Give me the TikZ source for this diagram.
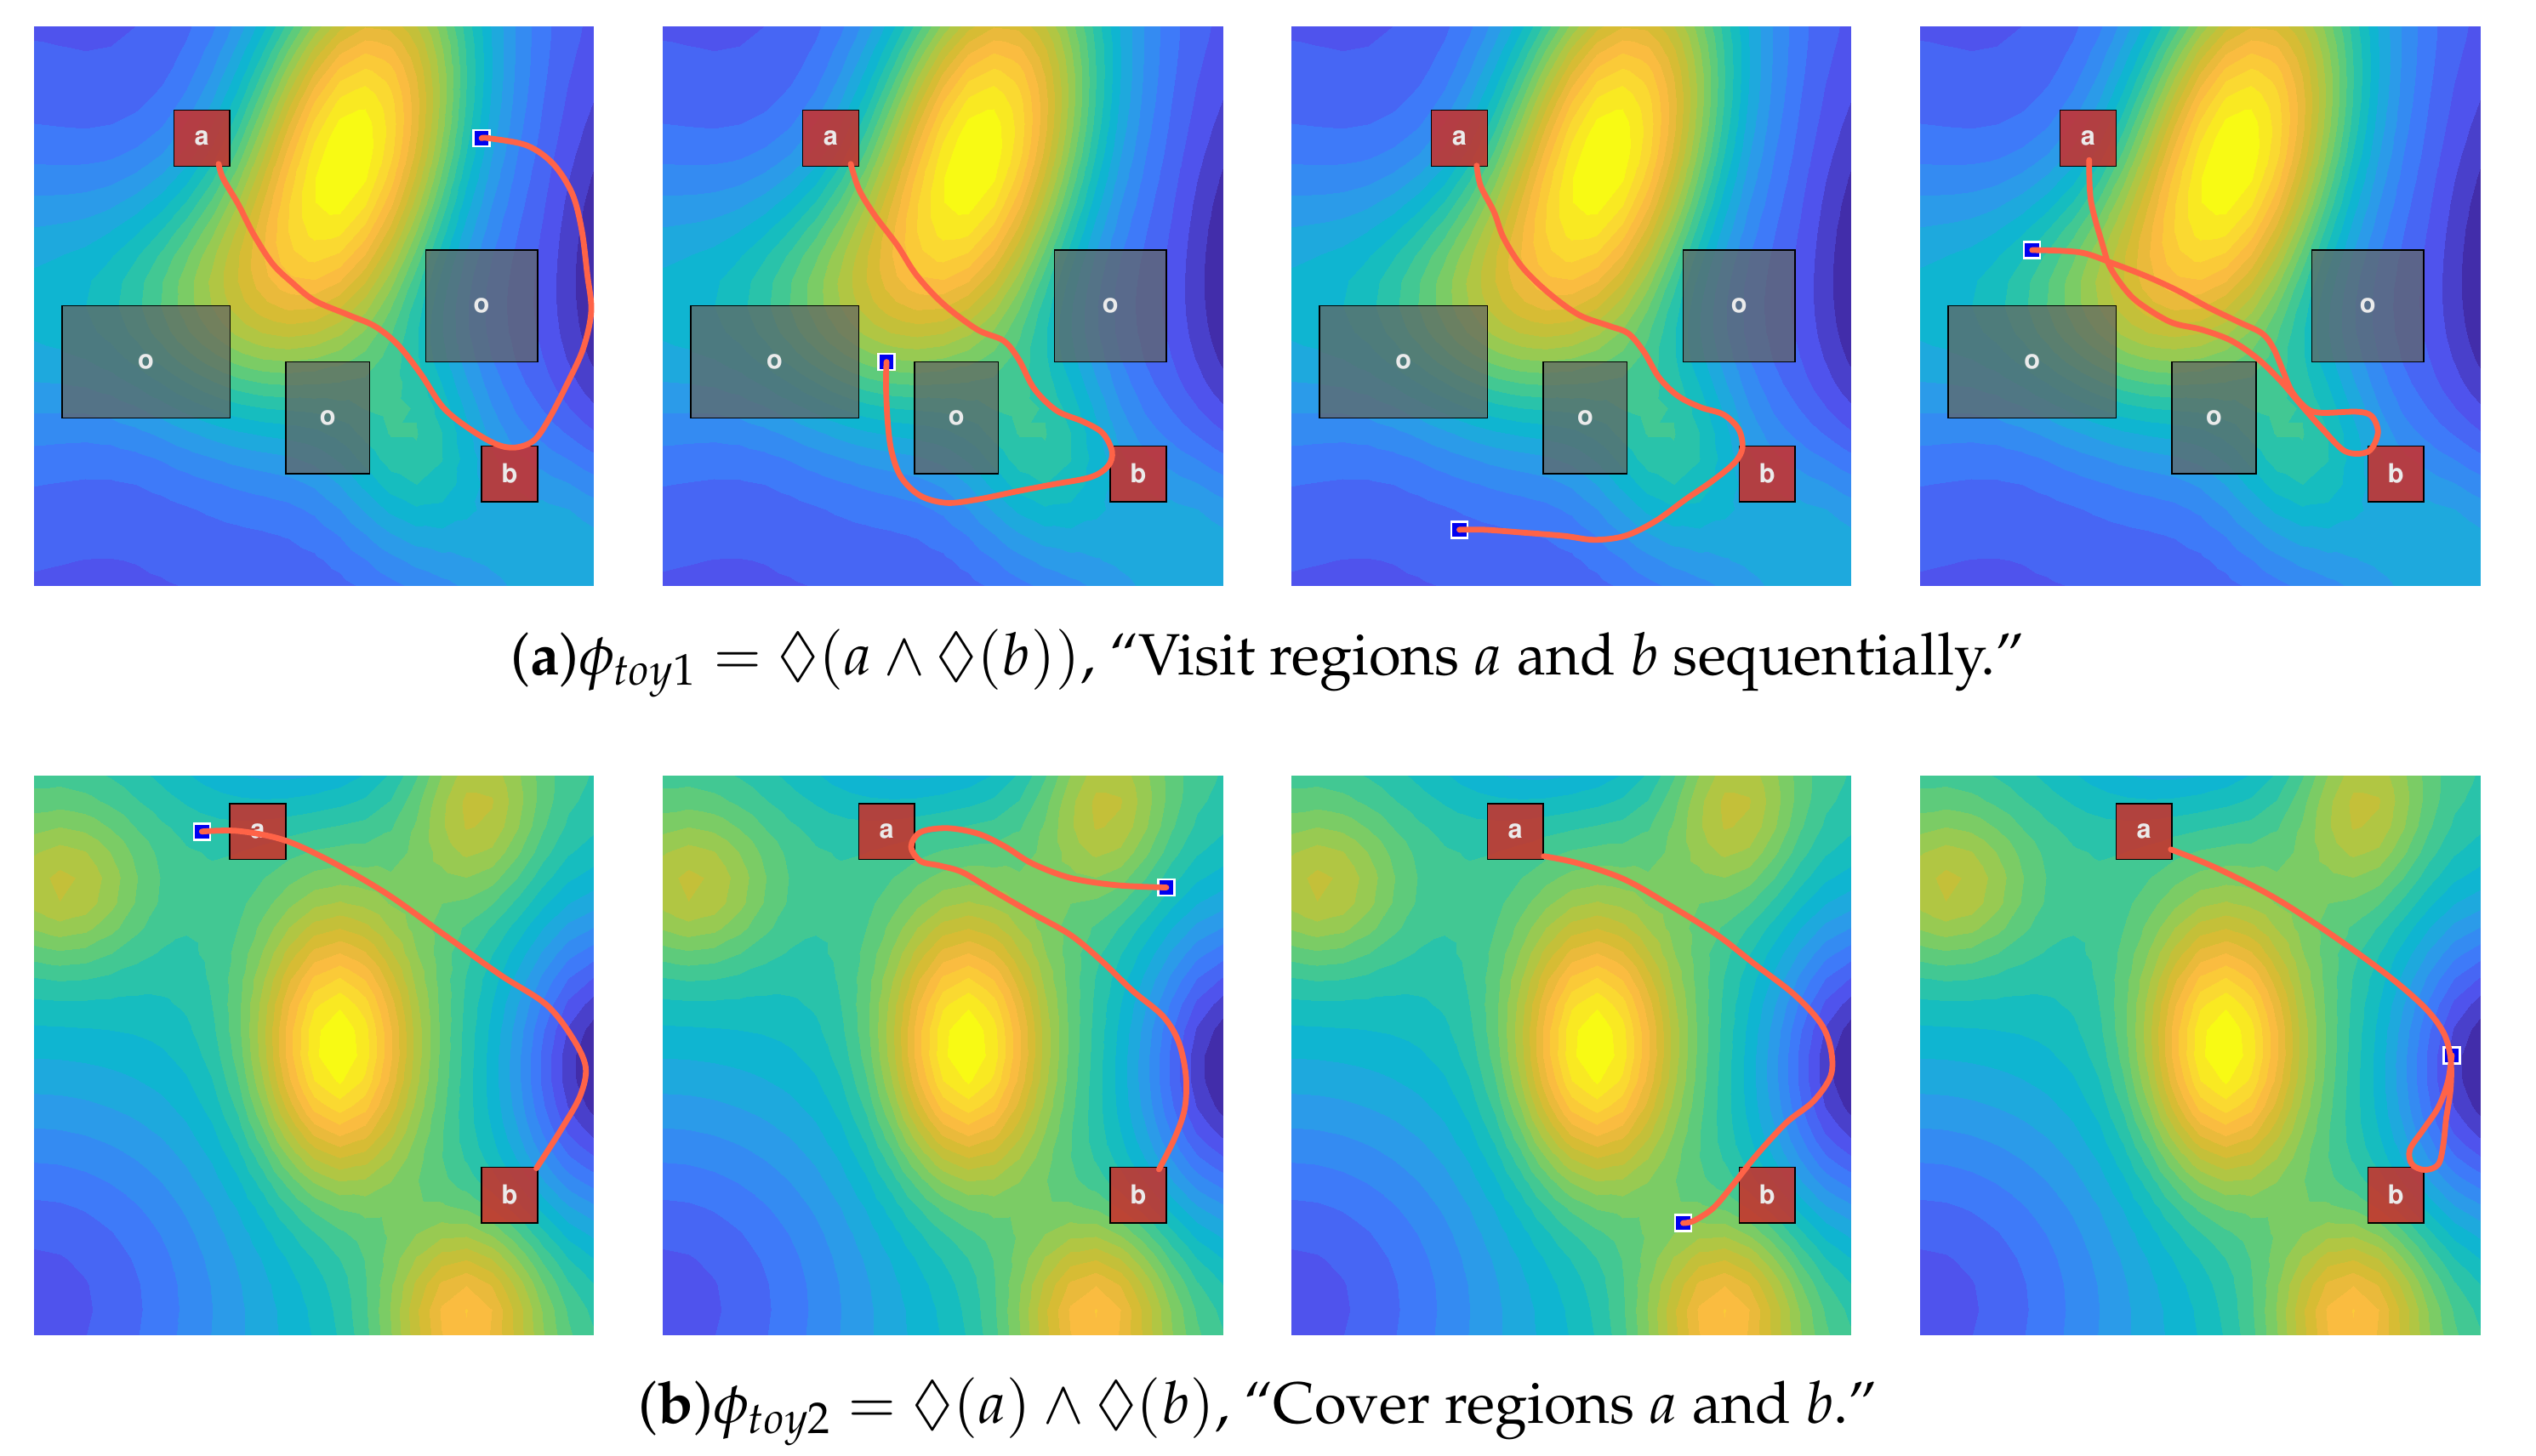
\documentclass[tikz,border=0pt]{standalone}
\usepackage[T1]{fontenc}
\usepackage{mathpazo}
\usepackage[scaled=0.92]{helvet}
\usepackage{amssymb}
\usepackage{pgfplots}
\pgfplotsset{compat=1.18}
\definecolor{traj}{RGB}{255,99,71}
\definecolor{regred}{RGB}{205,45,40}
\definecolor{obstgray}{RGB}{100,100,98}
\definecolor{lbl}{RGB}{235,235,235}
\definecolor{startblue}{RGB}{0,0,240}
\pgfplotsset{colormap={parulalike}{rgb255=(66,45,170) rgb255=(80,85,240) rgb255=(60,125,250) rgb255=(40,160,230) rgb255=(10,185,205) rgb255=(50,198,160) rgb255=(110,205,110) rgb255=(170,200,70) rgb255=(210,188,50) rgb255=(250,185,65) rgb255=(250,215,50) rgb255=(248,250,20)}}
\pgfplotsset{fieldaxis/.style={view={0}{90}, hide axis, scale only axis, width=6.58cm, height=6.58cm,
  xmin=0, xmax=1, ymin=0, ymax=1, y dir=reverse, enlargelimits=false, colormap name=parulalike, anchor=north west},
  fieldplot/.style={contour filled={number=24}, samples=23, domain=0:1, y domain=0:1}}
\newcommand\fA{exp(-(((x-0.565)*(-0.25)+(y-0.22)*0.97)^2/0.16+((x-0.565)*0.97+(y-0.22)*0.25)^2/0.0392))+0.36*exp(-((x-0.27)^2+(y-0.49)^2)/0.05)+0.32*exp(-((x-0.68)^2/0.02+(y-0.75)^2/0.04))-0.15*exp(-((x-1.03)^2/0.008+(y-0.45)^2/0.1))+0.20*exp(-((x+0.05)^2/0.0288+(y-0.5)^2/0.08))+0.25*exp(-((x-0.95)^2+(y-0.95)^2)/0.045)}
\newcommand\fB{0.40+0.60*exp(-((x-0.54)^2/0.02+(y-0.49)^2/0.0578))+0.25*exp(-((x-0.05)^2+(y-0.2)^2)/0.02)+0.25*exp(-((x-0.79)^2/0.0128+(y-0.05)^2/0.0288))+0.42*exp(-((x-0.77)^2/0.02+(y-0.97)^2/0.0288))-0.38*exp(-(x^2+(y-0.95)^2)/0.2)-0.50*exp(-((x-1.02)^2/0.0288+(y-0.52)^2/0.08))-0.18*exp(-((x-0.45)^2/0.06+(y+0.05)^2/0.015))}
\newcommand\fieldpanel[3]{\begin{axis}[fieldaxis, at={(#1*0.01cm,-#2*0.01cm)}]\addplot3[fieldplot]{#3};\end{axis}}
\tikzset{
  panelat/.style 2 args={shift={(#1*0.01cm,-#2*0.01cm)}, x=0.00658cm, y=-0.00658cm},
  lblfont/.style={font=\sffamily\bfseries\fontsize{9.5pt}{11pt}\selectfont, text=lbl},
  regionbox/.style={draw=black, line width=0.4pt, fill=regred, fill opacity=0.85, text opacity=1, minimum width=0.658cm, minimum height=0.658cm, inner sep=0pt, lblfont},
  obstbox/.style={draw=black, line width=0.4pt, fill=obstgray, fill opacity=0.72, text opacity=1, inner sep=0pt, lblfont},
  startmark/.style={draw=white, line width=0.025cm, fill=startblue, minimum size=0.19cm, inner sep=0pt},
  trajline/.style={draw=traj, line width=0.068cm, line cap=round, line join=round},
  captext/.style={anchor=base, inner sep=0pt, font=\fontsize{19.5pt}{23pt}\selectfont}
}
\newcommand\obstacles[1]{%
  \node[obstbox, minimum width=1.974cm, minimum height=1.316cm] (o1#1) at (200,600) {o};
  \node[obstbox, minimum width=0.987cm, minimum height=1.316cm] (o2#1) at (525,700) {o};
  \node[obstbox, minimum width=1.316cm, minimum height=1.316cm] (o3#1) at (800,500) {o};
  \node[regionbox] (a#1) at (300,200) {a};
  \node[regionbox] (b#1) at (850,800) {b};}
\newcommand\regionsB[1]{%
  \node[regionbox] (a#1) at (400,100) {a};
  \node[regionbox] (b#1) at (850,750) {b};}
\begin{document}
\begin{tikzpicture}
\path[use as bounding box, fill=white] (0,0) rectangle (29.81cm,-17.11cm);
% contour fields
\fieldpanel{40}{31}{\fA}
\fieldpanel{779.5}{31}{\fA}
\fieldpanel{1519}{31}{\fA}
\fieldpanel{2258.5}{31}{\fA}
\fieldpanel{40}{912.5}{\fB}
\fieldpanel{779.5}{912.5}{\fB}
\fieldpanel{1519}{912.5}{\fB}
\fieldpanel{2258.5}{912.5}{\fB}
% row 1, panel 1
\begin{scope}[panelat={40}{31}]
  \obstacles{1}
  \node[startmark] (s1) at (800,200) {};
  \draw[trajline] plot[smooth, tension=0.55] coordinates {(s1.center) (813,200) (881,213) (928,246) (962,299) (979,364) (989,444) (996,509) (982,575) (955,635) (921,701) (894,740) (860,753) (826,747) (779,720) (731,681) (691,621) (650,569) (609,536) (562,516) (501,490) (460,457) (426,424) (392,371) (365,318) (338,272) (330,246)};
\end{scope}
% row 1, panel 2
\begin{scope}[panelat={779.5}{31}]
  \obstacles{2}
  \node[startmark] (s2) at (400,600) {};
  \draw[trajline] plot[smooth, tension=0.55] coordinates {(s2.center) (399,641) (402,707) (409,760) (426,806) (460,839) (507,852) (562,846) (630,832) (697,819) (765,806) (796,786) (803,760) (786,727) (752,707) (704,687) (664,648) (636,595) (609,562) (562,542) (501,496) (453,444) (419,391) (379,338) (351,292) (336,246)};
\end{scope}
% row 1, panel 3
\begin{scope}[panelat={1519}{31}]
  \obstacles{3}
  \node[startmark] (s3) at (300,900) {};
  \draw[trajline] plot[smooth, tension=0.55] coordinates {(s3.center) (345,900) (412,905) (487,911) (541,918) (596,911) (650,885) (704,846) (752,813) (792,780) (806,753) (799,720) (772,694) (731,681) (691,661) (657,628) (630,582) (602,549) (569,536) (514,516) (460,477) (412,430) (379,378) (362,332) (338,285) (331,249)};
\end{scope}
% row 1, panel 4
\begin{scope}[panelat={2258.5}{31}]
  \obstacles{4}
  \node[startmark] (s4) at (200,400) {};
  \draw[trajline] plot[smooth, tension=0.55] coordinates {(s4.center) (285,404) (345,424) (407,448) (461,473) (516,503) (570,529) (611,549) (631,575) (648,615) (665,654) (692,684) (719,691) (780,689) (807,697) (818,727) (801,760) (760,760) (719,720) (678,674) (645,635) (604,595) (556,562) (502,542) (448,529) (393,496) (366,470) (339,430) (326,391) (305,312) (302,239)};
\end{scope}
% row 2, panel 5
\begin{scope}[panelat={40}{912.5}]
  \regionsB{5}
  \node[startmark] (s5) at (300,100) {};
  \draw[trajline] plot[smooth, tension=0.55] coordinates {(s5.center) (365,99) (446,115) (528,152) (630,211) (731,283) (833,356) (915,409) (962,468) (986,521) (976,573) (942,633) (898,702)};
\end{scope}
% row 2, panel 6
\begin{scope}[panelat={779.5}{912.5}]
  \regionsB{6}
  \node[startmark] (s6) at (900,200) {};
  \draw[trajline] plot[smooth, tension=0.55] coordinates {(s6.center) (812,196) (729,183) (660,157) (612,127) (564,104) (509,94) (461,101) (444,127) (461,153) (495,161) (536,173) (591,206) (660,246) (729,285) (784,331) (839,384) (894,430) (922,476) (935,536) (933,595) (915,648) (887,704)};
\end{scope}
% row 2, panel 7
\begin{scope}[panelat={1519}{912.5}]
  \regionsB{7}
  \node[startmark] (s7) at (700,800) {};
  \draw[trajline] plot[smooth, tension=0.55] coordinates {(s7.center) (719,796) (754,773) (788,733) (829,681) (884,621) (933,582) (964,536) (964,489) (946,443) (898,391) (829,338) (761,285) (678,233) (596,186) (513,157) (451,144)};
\end{scope}
% row 2, panel 8
\begin{scope}[panelat={2258.5}{912.5}]
  \regionsB{8}
  \node[startmark] (s8) at (950,500) {};
  \draw[trajline] plot[smooth, tension=0.55] coordinates {(448,132) (529,165) (631,217) (733,283) (834,356) (902,415) (936,461) (948,507) (948,560) (940,613) (935,659) (926,695) (902,705) (879,695) (875,669) (899,633) (926,593) (943,547) (s8.center)};
\end{scope}
% captions
\node[captext] (capA) at (14.90cm,-7.93cm) {(\textbf{a})$\phi_{toy1} = \lozenge(a \wedge \lozenge(b))$, ``Visit regions $a$ and $b$ sequentially.''};
\node[captext] (capB) at (14.79cm,-16.73cm) {(\textbf{b})$\phi_{toy2} = \lozenge(a) \wedge \lozenge(b)$, ``Cover regions $a$ and $b$.''};
\end{tikzpicture}
\end{document}
